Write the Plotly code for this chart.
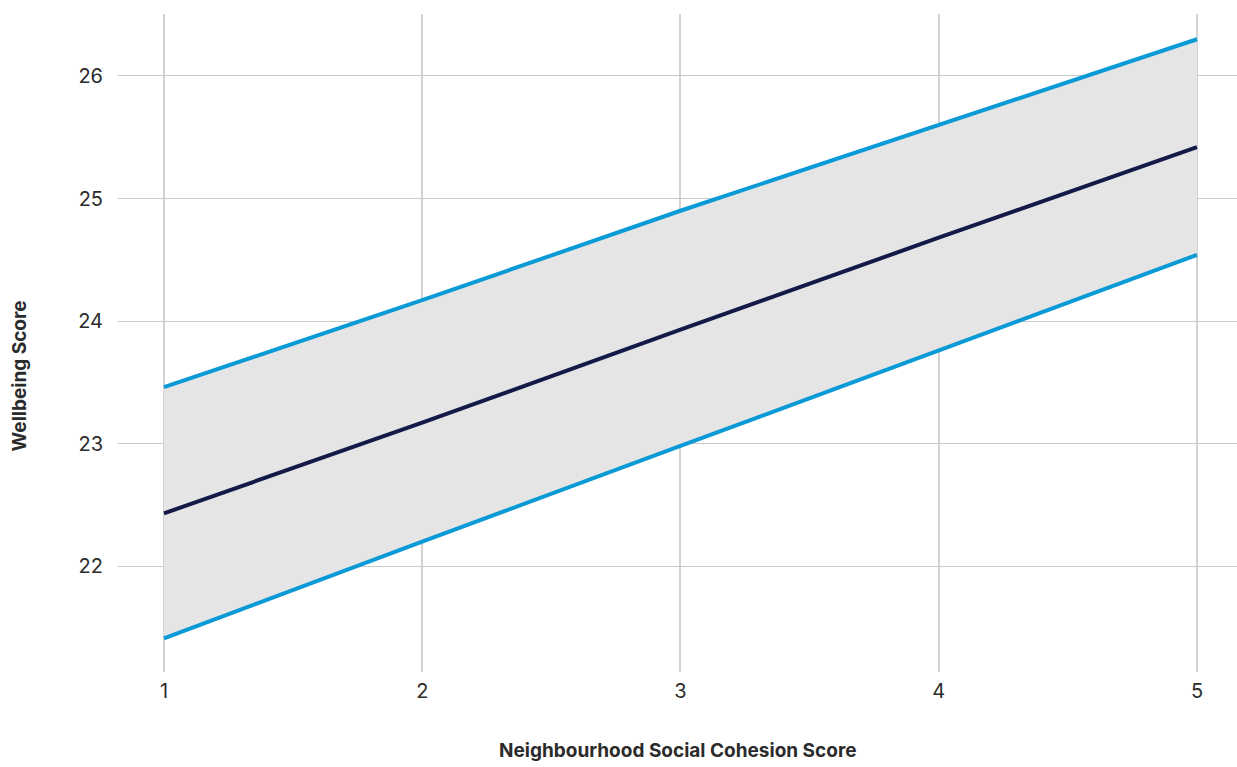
import plotly.graph_objects as go

# Neighbourhood social cohesion score (x) vs predicted wellbeing score
cohesion = [1, 2, 3, 4, 5]
wellbeing_fit = [22.43, 23.17, 23.93, 24.68, 25.42]
wellbeing_upper = [23.46, 24.17, 24.90, 25.60, 26.30]
wellbeing_lower = [21.41, 22.20, 22.98, 23.76, 24.54]

x_ticks = [1, 2, 3, 4, 5]
y_ticks = [22, 23, 24, 25, 26]

BLUE = "#0a9ad6"
NAVY = "#131a48"
BAND = "#e5e5e5"
GRID = "#c9c9c9"
TEXT = "#2b2b2b"
FONT = "Inter"

fig = go.Figure()

# shaded confidence band
fig.add_trace(go.Scatter(x=cohesion, y=wellbeing_lower, mode="lines",
                         line=dict(width=0, color=BAND), hoverinfo="skip",
                         showlegend=False))
fig.add_trace(go.Scatter(x=cohesion, y=wellbeing_upper, mode="lines",
                         line=dict(width=0, color=BAND), fill="tonexty",
                         fillcolor=BAND, hoverinfo="skip", showlegend=False))

# bounds and fitted line
fig.add_trace(go.Scatter(x=cohesion, y=wellbeing_upper, mode="lines",
                         line=dict(color=BLUE, width=4), showlegend=False))
fig.add_trace(go.Scatter(x=cohesion, y=wellbeing_lower, mode="lines",
                         line=dict(color=BLUE, width=4), showlegend=False))
fig.add_trace(go.Scatter(x=cohesion, y=wellbeing_fit, mode="lines",
                         line=dict(color=NAVY, width=4), showlegend=False))

fig.update_layout(
    width=1237, height=767,
    margin=dict(l=118, r=0, t=14, b=95),
    paper_bgcolor="white", plot_bgcolor="white",
    font=dict(family=FONT, color=TEXT, size=19),
    xaxis=dict(range=[0.822, 5.155], tickvals=x_ticks,
               ticktext=[str(v) for v in x_ticks],
               tickfont=dict(size=20),
               showgrid=True, gridcolor="#d2d2d2", gridwidth=1.5,
               zeroline=False, showline=False, ticks="",
               ticklabelstandoff=5),
    yaxis=dict(range=[21.135, 26.506], tickvals=y_ticks,
               ticktext=[str(v) for v in y_ticks],
               tickfont=dict(size=20),
               showgrid=True, gridcolor=GRID, gridwidth=1.2,
               zeroline=False, showline=False, ticks="",
               ticklabelstandoff=14),
    annotations=[
        dict(text="<b>Neighbourhood Social Cohesion Score</b>",
             xref="paper", yref="paper", x=0.5, y=-0.12,
             xanchor="center", yanchor="middle", showarrow=False,
             font=dict(size=19, family=FONT, color=TEXT)),
        dict(text="<b>Wellbeing Score</b>", textangle=-90,
             xref="paper", yref="paper", x=-0.088, y=0.45,
             xanchor="center", yanchor="middle", showarrow=False,
             font=dict(size=19, family=FONT, color=TEXT)),
    ],
)

fig.write_html("out.html")
